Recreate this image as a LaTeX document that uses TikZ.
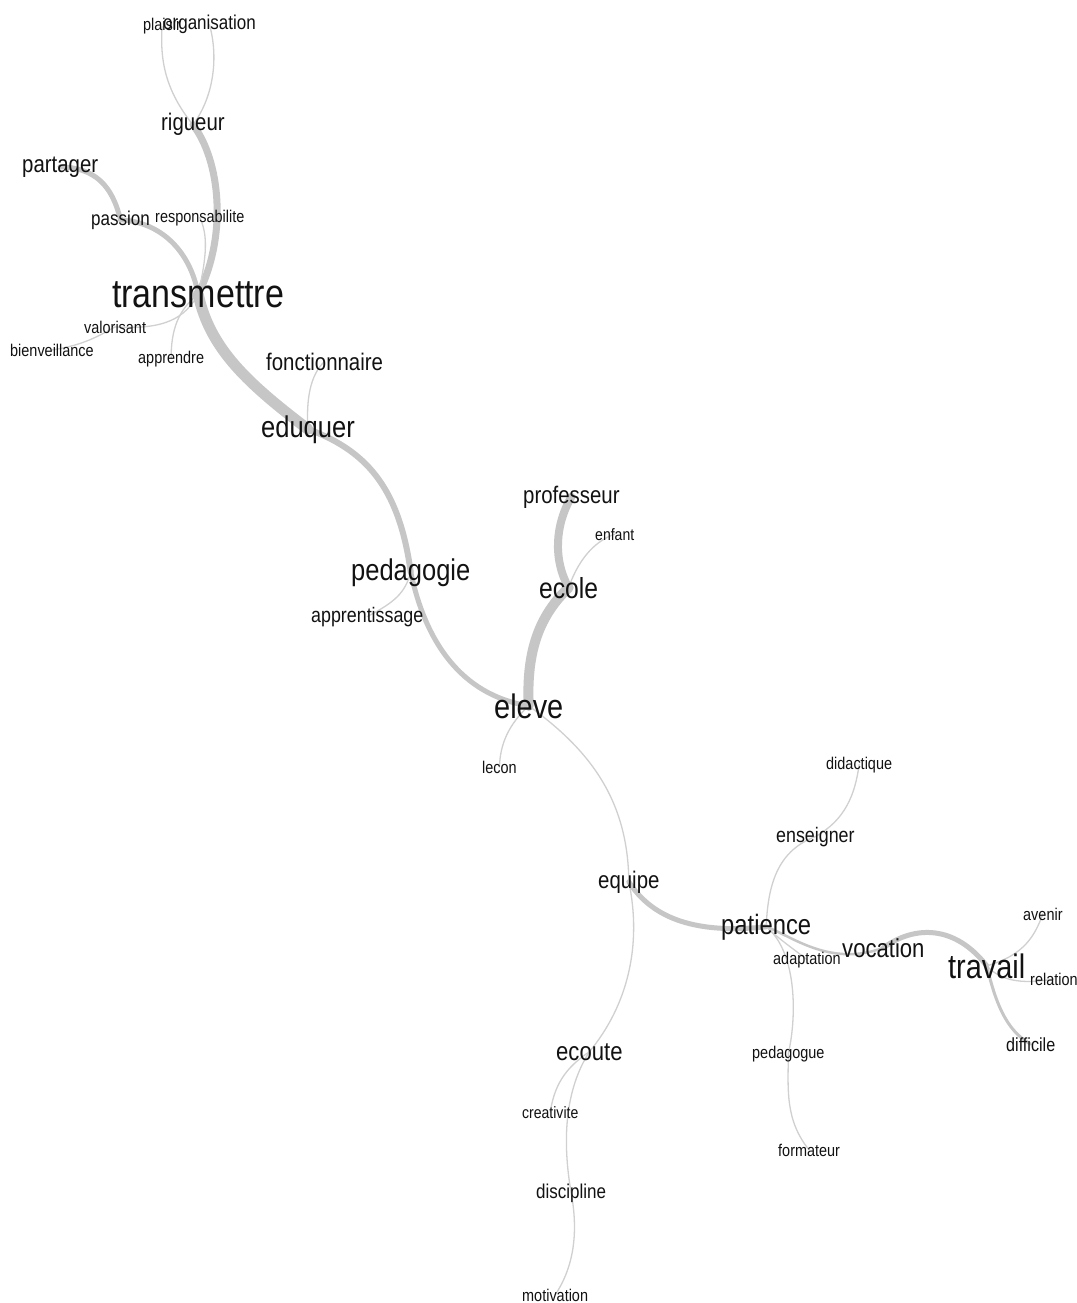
\documentclass[tikz,border=0pt]{standalone}
\usepackage{fontspec}
\setmainfont{Liberation Sans}[FakeStretch=0.85]
\pgfdeclarelayer{bottom}
\pgfdeclarelayer{background}
\pgfsetlayers{bottom,background,main}
\definecolor{edgegray}{HTML}{C6C6C6}
\definecolor{thingray}{HTML}{D0D0D0}
\definecolor{wordcol}{HTML}{121212}
\tikzset{
  wd/.style={anchor=base west, inner sep=0pt, text=wordcol, font=\fontsize{#1}{#1}\selectfont},
  thinedge/.style={draw=thingray, line width=1.3pt, line cap=round},
  midedge/.style={draw=edgegray, line width=#1, line cap=round},
}
\begin{document}
\begin{tikzpicture}[x=1pt,y=-1pt]
\begin{pgfonlayer}{bottom}
\fill[white] (0,0) rectangle (1076,1303);
\end{pgfonlayer}
\useasboundingbox (0,0) rectangle (1076,1303);
% words
\node[wd=17] (plaisir) at (143,31) {plaisir};
\node[wd=20] (organisation) at (163,30) {organisation};
\node[wd=24] (rigueur) at (161,131) {rigueur};
\node[wd=24] (partager) at (22,172) {partager};
\node[wd=20] (passion) at (91,225) {passion};
\node[wd=17] (responsabilite) at (155,222) {responsabilite};
\node[wd=40] (transmettre) at (112,307) {transmettre};
\node[wd=17] (valorisant) at (84,333) {valorisant};
\node[wd=17] (bienveillance) at (10,356) {bienveillance};
\node[wd=17] (apprendre) at (138,363) {apprendre};
\node[wd=24] (fonctionnaire) at (266,370) {fonctionnaire};
\node[wd=30] (eduquer) at (261,437) {eduquer};
\node[wd=24] (professeur) at (523,503) {professeur};
\node[wd=16.5] (enfant) at (595,540) {enfant};
\node[wd=30] (pedagogie) at (351,580) {pedagogie};
\node[wd=29] (ecole) at (539,598) {ecole};
\node[wd=21] (apprentissage) at (311,622) {apprentissage};
\node[wd=34] (eleve) at (494,718) {eleve};
\node[wd=17] (lecon) at (482,773) {lecon};
\node[wd=17] (didactique) at (826,769) {didactique};
\node[wd=21] (enseigner) at (776,842) {enseigner};
\node[wd=24] (equipe) at (598,888) {equipe};
\node[wd=28] (patience) at (721,934) {patience};
\node[wd=26] (vocation) at (842,957) {vocation};
\node[wd=17] (adaptation) at (773,964) {adaptation};
\node[wd=34] (travail) at (948,978) {travail};
\node[wd=17] (avenir) at (1023,920) {avenir};
\node[wd=17] (relation) at (1030,985) {relation};
\node[wd=19] (difficile) at (1006,1051) {difficile};
\node[wd=26] (ecoute) at (556,1060) {ecoute};
\node[wd=17] (pedagogue) at (752,1058) {pedagogue};
\node[wd=16.5] (creativite) at (522,1118) {creativite};
\node[wd=17] (formateur) at (778,1156) {formateur};
\node[wd=20] (discipline) at (536,1198) {discipline};
\node[wd=17] (motivation) at (522,1301) {motivation};
% connectors
\begin{pgfonlayer}{background}
\draw[thinedge] (plaisir.center) .. controls (160,60) and (165,90) .. (rigueur.center);
\draw[thinedge] (organisation.center) .. controls (218,55) and (215,95) .. (rigueur.center);
\draw[midedge=7pt] (rigueur.center) .. controls (220,160) and (228,235) .. (transmettre.center);
\draw[midedge=5pt] (partager.center) .. controls (95,168) and (112,185) .. (passion.center);
\draw[midedge=5pt] (passion.center) .. controls (160,222) and (190,250) .. (transmettre.center);
\draw[thinedge] (responsabilite.center) .. controls (208,235) and (207,255) .. (transmettre.center);
\draw[thinedge] (transmettre.center) .. controls (185,318) and (165,330) .. (valorisant.center);
\draw[thinedge] (valorisant.center) .. controls (100,335) and (85,345) .. (bienveillance.center);
\draw[thinedge] (transmettre.center) .. controls (178,310) and (171,330) .. (apprendre.center);
\draw[midedge=11pt] (transmettre.center) .. controls (210,350) and (250,385) .. (eduquer.center);
\draw[thinedge] (fonctionnaire.center) .. controls (310,375) and (306,400) .. (eduquer.center);
\draw[midedge=6pt] (eduquer.center) .. controls (372,452) and (400,495) .. (pedagogie.center);
\draw[thinedge] (pedagogie.center) .. controls (405,593) and (395,602) .. (apprentissage.center);
\draw[midedge=5pt] (pedagogie.center) .. controls (425,640) and (460,695) .. (eleve.center);
\draw[midedge=8pt] (professeur.center) .. controls (555,525) and (553,560) .. (ecole.center);
\draw[thinedge] (enfant.center) .. controls (598,540) and (580,555) .. (ecole.center);
\draw[midedge=10pt] (ecole.center) .. controls (540,615) and (526,650) .. (eleve.center);
\draw[thinedge] (eleve.center) .. controls (508,725) and (500,745) .. (lecon.center);
\draw[thinedge] (eleve.center) .. controls (590,750) and (628,800) .. (equipe.center);
\draw[thinedge] (equipe.center) .. controls (642,945) and (628,1005) .. (ecoute.center);
\draw[midedge=5pt] (equipe.center) .. controls (650,915) and (690,935) .. (patience.center);
\draw[thinedge] (patience.center) .. controls (768,880) and (780,850) .. (enseigner.center);
\draw[thinedge] (enseigner.center) .. controls (845,820) and (855,795) .. (didactique.center);
\draw[thinedge] (patience.center) .. controls (780,940) and (795,950) .. (adaptation.center);
\draw[midedge=2.5pt] (patience.center) .. controls (790,935) and (830,968) .. (vocation.center);
\draw[midedge=5pt] (vocation.center) .. controls (915,925) and (955,925) .. (travail.center);
\draw[thinedge] (travail.center) .. controls (1025,955) and (1035,935) .. (avenir.center);
\draw[thinedge] (travail.center) .. controls (1000,980) and (1020,985) .. (relation.center);
\draw[midedge=3pt] (travail.center) .. controls (995,1000) and (1005,1030) .. (difficile.center);
\draw[thinedge] (patience.center) .. controls (795,950) and (798,1010) .. (pedagogue.center);
\draw[thinedge] (pedagogue.center) .. controls (788,1090) and (785,1120) .. (formateur.center);
\draw[thinedge] (ecoute.center) .. controls (570,1065) and (555,1080) .. (creativite.center);
\draw[thinedge] (ecoute.center) .. controls (565,1090) and (562,1140) .. (discipline.center);
\draw[thinedge] (discipline.center) .. controls (578,1230) and (575,1265) .. (motivation.center);
\end{pgfonlayer}
\end{tikzpicture}
\end{document}
